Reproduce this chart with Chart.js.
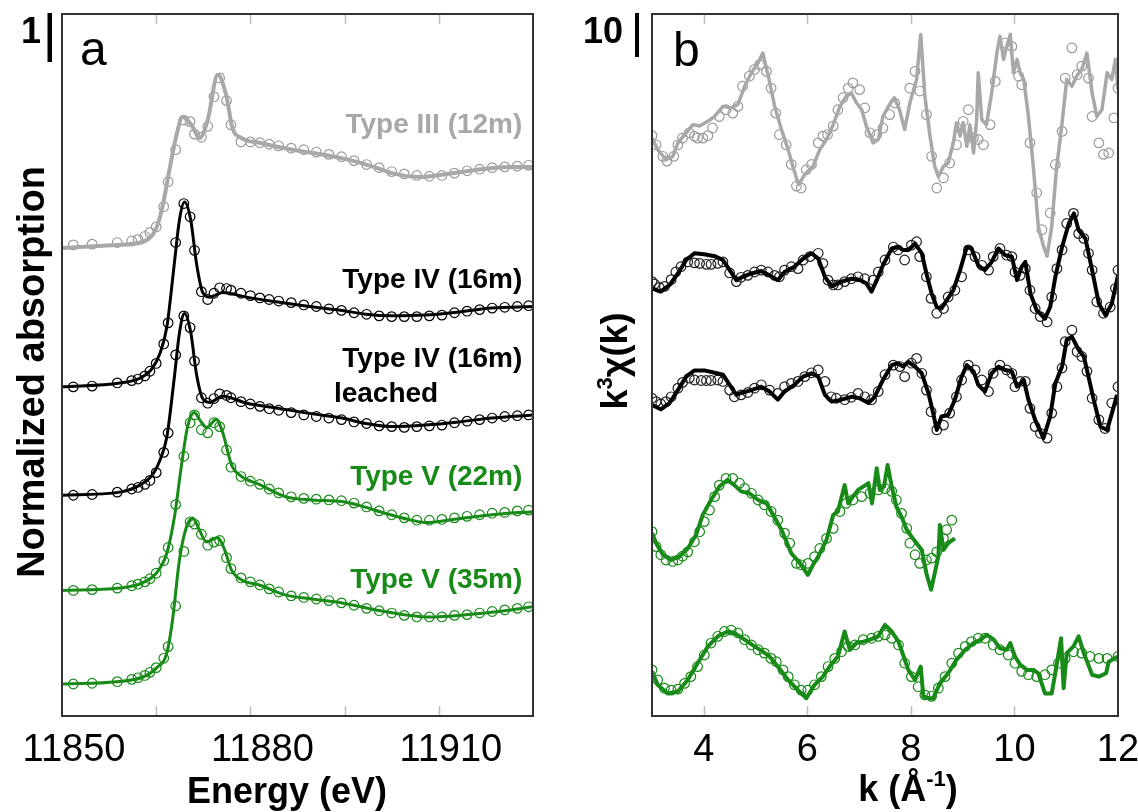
<!DOCTYPE html>
<html>
<head>
<meta charset="utf-8">
<script src="https://cdn.jsdelivr.net/npm/chart.js@4.4.1/dist/chart.umd.min.js"></script>
<style>
  html, body { margin: 0; padding: 0; background: #fff; }
  #wrap { position: relative; width: 1138px; height: 812px; }
  #wrap canvas { position: absolute; top: 0; }
  #chartA { left: 0; }
  #chartB { left: 569px; }
</style>
</head>
<body>
<div id="wrap">
  <canvas id="chartA" width="569" height="812"></canvas>
  <canvas id="chartB" width="569" height="812"></canvas>
</div>
<script>
/* ---------- Panel a : XANES (normalized absorption, offset per sample) ---------- */
const energyTicks = [11850, 11865, 11880, 11895, 11910, 11925];
const energyTickLabels = ['11850', '', '11880', '', '11910', ''];

const energyIII = [11850, 11858.7, 11862.9, 11865.1, 11866.0, 11867.1, 11868.3, 11869.2, 11870.6, 11871.9, 11873.2, 11874.8, 11876.2, 11877.1, 11878.6, 11881.4, 11886.7, 11892.1, 11895.7, 11900.0, 11902.5, 11907.3, 11910.5, 11915.9, 11921.1, 11925];
const fitIII = [0, 0.04, 0.08, 0.27, 0.53, 1.0, 1.47, 1.68, 1.58, 1.41, 1.64, 2.22, 1.94, 1.55, 1.41, 1.35, 1.26, 1.19, 1.13, 1.03, 0.96, 0.91, 0.94, 1.0, 1.04, 1.04];

const energyIV = [11850, 11859.2, 11862.4, 11864.4, 11865.6, 11866.7, 11867.9, 11868.7, 11869.5, 11870.5, 11871.4, 11872.4, 11873.5, 11875.6, 11879.4, 11884.1, 11889.4, 11894.6, 11898.4, 11902.5, 11907.9, 11913.2, 11918.4, 11925];
const fitIV = [0, 0.05, 0.11, 0.24, 0.43, 0.77, 1.59, 2.14, 2.37, 2.14, 1.59, 1.21, 1.15, 1.21, 1.15, 1.09, 1.03, 0.98, 0.93, 0.91, 0.92, 0.96, 1.01, 1.03];
const fitIVleached = [0, 0.04, 0.13, 0.26, 0.45, 0.75, 1.52, 2.08, 2.33, 2.09, 1.56, 1.24, 1.19, 1.27, 1.18, 1.12, 1.05, 0.99, 0.92, 0.88, 0.9, 0.94, 0.99, 1.03];

const energyV22 = [11850, 11859.2, 11862.9, 11865.1, 11866.7, 11867.9, 11869.0, 11870.0, 11871.1, 11871.9, 11873.0, 11874.6, 11875.6, 11877.0, 11878.6, 11881.4, 11885.7, 11889.8, 11894.6, 11897.3, 11901.0, 11905.2, 11907.9, 11913.2, 11918.4, 11925];
const fitV22 = [0, 0.03, 0.1, 0.23, 0.48, 0.94, 1.59, 2.1, 2.28, 2.19, 2.09, 2.19, 2.02, 1.61, 1.46, 1.36, 1.2, 1.16, 1.14, 1.09, 1.0, 0.91, 0.87, 0.92, 0.97, 1.01];

const energyV35 = [11850, 11858.7, 11862.9, 11865.1, 11866.7, 11867.6, 11868.7, 11869.8, 11870.8, 11871.9, 11873.0, 11874.8, 11875.9, 11877.0, 11878.7, 11881.4, 11885.7, 11889.8, 11894.6, 11900.0, 11905.2, 11907.9, 11913.2, 11918.4, 11925];
const fitV35 = [0, 0.03, 0.09, 0.21, 0.4, 0.82, 1.59, 2.01, 2.13, 1.97, 1.82, 1.88, 1.72, 1.46, 1.33, 1.27, 1.14, 1.09, 1.04, 0.95, 0.88, 0.86, 0.88, 0.92, 0.99];

// measured points share one energy grid
const expEnergy = [11851.8, 11854.8, 11858.8, 11861.1, 11862.1, 11863.2, 11864.0, 11865.0, 11866.2, 11866.9,
  11868.1, 11869.4, 11870.4, 11871.1, 11872.2, 11873.2, 11874.2, 11875.1, 11876.2, 11876.9,
  11878.5, 11880, 11881.5, 11883, 11884.5, 11886.5, 11888.5, 11890.5, 11892.5, 11894.5,
  11896.5, 11898.5, 11900.5, 11902.5, 11904.5, 11906.5, 11908.5, 11910.5, 11912.5, 11914.5,
  11916.5, 11918.5, 11920.5, 11922.5, 11924.3];
const expIII = [0.04, 0.05, 0.07, 0.09, 0.11, 0.15, 0.2, 0.27, 0.53, 0.85,
  1.26, 1.64, 1.62, 1.46, 1.42, 1.56, 1.94, 2.18, 1.89, 1.58,
  1.36, 1.36, 1.35, 1.33, 1.31, 1.28, 1.26, 1.23, 1.2, 1.17,
  1.12, 1.07, 1.03, 0.98, 0.95, 0.93, 0.92, 0.93, 0.96, 0.99,
  1.01, 1.03, 1.04, 1.05, 1.06];
const expIV = [0.0, 0.01, 0.05, 0.08, 0.1, 0.14, 0.2, 0.3, 0.55, 0.82,
  1.85, 2.35, 2.18, 1.75, 1.22, 1.12, 1.2, 1.27, 1.26, 1.24,
  1.2, 1.17, 1.14, 1.12, 1.1, 1.08, 1.05, 1.03, 1.0, 0.98,
  0.95, 0.93, 0.91, 0.9, 0.9, 0.9, 0.91, 0.92, 0.95, 0.97,
  0.99, 1.01, 1.02, 1.03, 1.04];
const expIVleached = [0.0, 0.01, 0.04, 0.08, 0.1, 0.14, 0.19, 0.29, 0.55, 0.8,
  1.8, 2.3, 2.15, 1.72, 1.25, 1.18, 1.24, 1.3, 1.28, 1.25,
  1.2, 1.17, 1.14, 1.11, 1.09, 1.06, 1.03, 1.01, 0.99, 0.97,
  0.94, 0.92, 0.89, 0.88, 0.87, 0.88, 0.89, 0.9, 0.93, 0.95,
  0.97, 0.99, 1.01, 1.02, 1.03];
const expV22 = [0.0, 0.01, 0.03, 0.06, 0.08, 0.11, 0.15, 0.22, 0.38, 0.55,
  1.1, 1.72, 2.15, 2.25, 2.06, 2.02, 2.15, 2.1, 1.8, 1.58,
  1.46, 1.4, 1.36, 1.3, 1.25, 1.2, 1.18, 1.17, 1.16, 1.15,
  1.12, 1.07, 1.02, 0.97, 0.93, 0.9, 0.9, 0.91, 0.93, 0.95,
  0.97, 0.99, 1.0, 1.02, 1.03];
const expV35 = [0.0, 0.01, 0.03, 0.06, 0.08, 0.11, 0.15, 0.21, 0.33, 0.48,
  1.0, 1.7, 2.08, 2.05, 1.92, 1.78, 1.82, 1.84, 1.62, 1.48,
  1.36, 1.31, 1.27, 1.22, 1.18, 1.13, 1.11, 1.09, 1.07, 1.04,
  1.01, 0.97, 0.94, 0.91, 0.88, 0.86, 0.86, 0.86, 0.88, 0.89,
  0.91, 0.93, 0.95, 0.97, 0.99];

const offsetsA = { III: 6.0, IV: 4.22, IVleached: 2.83, V22: 1.61, V35: 0.41 };

/* ---------- Panel b : EXAFS k^3 chi(k), [k, chi] pairs ---------- */
const kTicks = [4, 6, 8, 10, 12];

const chiFitIII = [[3.0,2.4],[3.11,0],[3.27,-2.1],[3.4,-1.4],[3.5,1.4],[3.63,3.1],[3.79,5.2],[3.92,4.9],[4.08,5.9],[4.21,6.9],
  [4.37,9.0],[4.53,8.7],[4.66,9.4],[4.79,13.2],[4.92,16.0],[5.05,18.1],[5.14,20.1],[5.24,15.6],[5.37,9.0],[5.5,4.2],
  [5.63,0],[5.72,-3.5],[5.83,-7.3],[5.95,-5.2],[6.11,-3.5],[6.24,0],[6.37,2.1],[6.5,5.2],[6.63,9.0],[6.75,11.1],
  [6.85,11.8],[6.95,9.7],[7.05,8.3],[7.14,4.9],[7.27,1.4],[7.37,2.1],[7.46,6.9],[7.59,9.4],[7.68,10.8],[7.78,8.3],
  [7.88,4.2],[7.98,9.7],[8.11,14.6],[8.19,24.0],[8.27,11.1],[8.37,2.8],[8.46,-3.5],[8.53,-5.6],[8.63,-3.5],[8.72,-2.8],
  [8.82,1.4],[8.88,5.6],[8.95,2.8],[9.01,5.6],[9.08,0.7],[9.14,5.2],[9.21,-0.7],[9.27,6.2],[9.3,16.0],[9.37,6.2],
  [9.46,5.2],[9.56,11.8],[9.66,20.1],[9.72,23.6],[9.79,18.8],[9.85,21.5],[9.92,24.0],[9.98,16.0],[10.05,18.8],[10.11,16.0],
  [10.18,14.6],[10.27,6.9],[10.37,-4.2],[10.46,-16.0],[10.56,-20.1],[10.63,-22.2],[10.72,-16.0],[10.81,-4.2],[10.92,5.6],[11.01,14.6],
  [11.11,13.2],[11.2,15.3],[11.3,16.7],[11.4,20.1],[11.5,11.8],[11.59,6.9],[11.69,8.3],[11.79,16.0],[11.88,14.6],[11.95,18.8],[12.0,12.5]];
const chiExpIII = [[3.0,2.9],[3.08,1.0],[3.21,-1.4],[3.29,-2.4],[3.42,-1.4],[3.5,1.0],[3.59,2.4],[3.72,3.5],[3.82,2.8],[3.88,2.4],
  [3.98,2.4],[4.08,2.9],[4.17,4.5],[4.3,6.9],[4.43,8.3],[4.56,7.6],[4.66,9.0],[4.75,13.2],[4.88,15.3],[4.98,16.7],
  [5.08,17.7],[5.21,16.3],[5.3,12.8],[5.39,7.6],[5.46,3.1],[5.59,1.0],[5.69,-3.1],[5.79,-7.6],[5.88,-8.0],[5.98,-4.2],
  [6.08,-3.1],[6.21,1.4],[6.3,2.8],[6.39,3.1],[6.5,4.9],[6.59,8.3],[6.69,10.8],[6.79,12.8],[6.88,13.9],[7.01,12.5],
  [7.11,8.7],[7.21,3.5],[7.34,3.1],[7.46,4.5],[7.59,7.3],[7.69,9.7],[7.98,12.8],[8.08,16.3],[8.17,12.2],[8.3,7.3],
  [8.4,-1.4],[8.5,-8.0],[8.63,-5.9],[8.75,-2.8],[8.88,1.0],[9.01,5.9],[9.11,8.3],[9.21,2.4],[9.3,2.1],[9.4,1.0],
  [9.53,5.2],[9.63,14.2],[9.82,22.2],[9.95,21.5],[10.08,15.3],[10.14,13.5],[10.3,1.4],[10.43,-9.0],[10.53,-16.7],[10.69,-13.2],
  [10.79,-3.1],[10.92,3.8],[10.98,14.9],[11.11,21.2],[11.21,15.6],[11.3,17.4],[11.43,14.9],[11.5,6.9],[11.63,1.4],[11.72,-1.0],
  [11.82,-0.7],[11.92,6.6],[12.0,12.8]];

const chiFitIV = [[3.0,-1.7],[3.17,-2.4],[3.34,-1.0],[3.5,1.4],[3.66,4.2],[3.82,5.6],[4.01,5.4],[4.21,5.0],[4.37,4.2],[4.5,2.1],
  [4.63,0],[4.75,0.7],[4.92,1.4],[5.11,1.9],[5.27,1.0],[5.43,0],[5.56,1.7],[5.75,2.8],[5.92,4.5],[6.08,5.6],
  [6.21,4.5],[6.34,0.7],[6.47,-1.3],[6.66,-0.3],[6.85,0.3],[7.01,0.1],[7.14,-0.7],[7.24,-2.4],[7.34,0],[7.46,3.1],
  [7.63,6.6],[7.75,6.9],[7.85,6.3],[7.95,6.3],[8.08,7.6],[8.21,5.6],[8.3,1.4],[8.4,-2.8],[8.5,-5.6],[8.59,-5.9],
  [8.69,-4.2],[8.82,-2.1],[8.95,2.1],[9.08,6.9],[9.17,6.6],[9.3,3.1],[9.43,2.1],[9.56,3.8],[9.69,6.6],[9.82,5.2],
  [9.95,4.9],[10.05,0],[10.14,2.8],[10.21,3.8],[10.31,-2.8],[10.43,-6.3],[10.59,-8.0],[10.69,-5.6],[10.79,0.7],[10.92,6.9],
  [11.05,11.8],[11.15,13.9],[11.24,10.4],[11.37,8.7],[11.5,2.1],[11.63,-4.9],[11.76,-7.3],[11.88,-4.9],[12.0,1.0]];
const chiExpIV = [[3.0,-0.3],[3.05,-0.8],[3.14,-1.5],[3.24,-1.3],[3.37,0.1],[3.46,1.7],[3.56,2.8],[3.69,3.8],[3.82,3.6],[3.92,3.5],
  [4.05,3.3],[4.14,3.3],[4.27,3.5],[4.37,3.8],[4.5,1.5],[4.63,-0.3],[4.72,0.6],[4.85,1.0],[4.98,1.7],[5.11,2.1],
  [5.24,1.7],[5.37,1.0],[5.46,0.7],[5.56,2.1],[5.69,2.8],[5.82,2.4],[5.92,4.2],[6.05,4.9],[6.21,5.6],[6.3,3.5],
  [6.4,0],[6.5,-1.0],[6.59,-1.0],[6.72,-0.3],[6.85,0.3],[6.98,0.7],[7.11,0.3],[7.27,0],[7.37,1.7],[7.5,4.2],
  [7.66,6.9],[7.75,6.3],[7.88,4.2],[8.01,7.3],[8.11,8.0],[8.17,4.9],[8.3,0.7],[8.39,-3.8],[8.5,-6.9],[8.63,-5.9],
  [8.72,-3.5],[8.85,-2.1],[8.98,0.7],[9.11,6.3],[9.24,4.9],[9.37,3.1],[9.5,2.1],[9.59,4.9],[9.72,6.6],[9.85,5.2],
  [9.95,4.9],[10.01,1.7],[10.11,1.0],[10.21,2.4],[10.3,-2.1],[10.4,-5.9],[10.5,-7.6],[10.63,-8.7],[10.72,-3.5],[10.82,2.4],
  [10.92,6.3],[11.01,11.8],[11.14,13.9],[11.24,9.7],[11.34,8.7],[11.43,5.6],[11.5,2.1],[11.59,-4.5],[11.72,-6.9],[11.85,-5.6],
  [11.95,-1.7],[12.0,2.1]];

const chiFitIVleached = [[3.0,-1.4],[3.17,-2.3],[3.34,-1.0],[3.5,1.7],[3.66,4.5],[3.82,5.8],[4.01,5.8],[4.21,5.3],[4.37,4.9],[4.5,2.8],
  [4.63,0.7],[4.75,1.2],[4.92,1.7],[5.11,2.4],[5.27,1.4],[5.43,-0.3],[5.56,1.4],[5.75,2.8],[5.92,4.5],[6.08,5.2],
  [6.21,4.5],[6.34,0.7],[6.47,-0.7],[6.66,-0.3],[6.85,0.3],[7.01,0],[7.18,-1.0],[7.3,0.3],[7.46,3.8],[7.63,6.9],
  [7.75,7.3],[7.85,6.6],[7.95,7.6],[8.08,6.6],[8.21,5.2],[8.34,1.0],[8.43,-3.1],[8.5,-6.6],[8.59,-3.8],[8.72,-3.5],
  [8.85,-0.3],[8.98,4.5],[9.08,6.9],[9.21,5.6],[9.3,2.8],[9.43,1.4],[9.56,5.2],[9.69,6.6],[9.82,5.9],[9.95,5.6],
  [10.05,2.4],[10.18,3.8],[10.27,-0.3],[10.4,-4.5],[10.56,-8.3],[10.69,-3.8],[10.79,3.1],[10.92,6.6],[11.01,12.2],[11.11,12.8],
  [11.24,10.1],[11.34,8.7],[11.43,4.5],[11.53,-0.3],[11.66,-5.9],[11.79,-6.6],[11.92,-1.7],[11.98,0.7]];
const chiExpIVleached = [[3.0,0],[3.08,-0.7],[3.17,-1.2],[3.27,-0.7],[3.37,0.3],[3.5,2.1],[3.59,3.3],[3.72,4.2],[3.82,3.8],[3.95,3.7],
  [4.05,3.7],[4.14,3.7],[4.27,3.8],[4.37,3.5],[4.5,1.7],[4.59,0.3],[4.72,0.7],[4.85,1.2],[4.98,2.1],[5.11,2.8],
  [5.27,1.7],[5.43,1.0],[5.56,2.4],[5.69,3.1],[5.82,3.5],[5.95,4.5],[6.08,5.3],[6.21,5.9],[6.34,3.5],[6.46,0.3],
  [6.56,0],[6.72,-0.3],[6.85,0.2],[6.98,1.0],[7.11,0.3],[7.24,-0.3],[7.37,1.4],[7.5,4.9],[7.66,6.9],[7.79,6.6],
  [7.88,4.5],[8.01,7.3],[8.11,8.3],[8.21,5.2],[8.3,1.7],[8.39,-2.8],[8.5,-6.6],[8.63,-5.6],[8.75,-3.1],[8.88,0.3],
  [8.98,3.8],[9.11,6.9],[9.24,5.9],[9.37,3.8],[9.5,1.4],[9.59,5.2],[9.72,6.9],[9.85,5.9],[9.95,5.2],[10.01,2.4],
  [10.11,3.5],[10.21,3.5],[10.3,-2.1],[10.4,-5.9],[10.5,-7.3],[10.63,-8.3],[10.72,-3.1],[10.82,2.4],[10.92,6.3],[10.98,11.8],
  [11.11,14.2],[11.21,9.7],[11.3,8.7],[11.4,5.6],[11.5,0],[11.63,-4.5],[11.75,-6.3],[11.88,-1.0],[12.0,2.4]];

const chiFitV22 = [[3.0,-2.4],[3.08,-4.5],[3.21,-6.9],[3.37,-8.0],[3.53,-7.3],[3.69,-5.6],[3.85,-2.8],[3.98,1.4],[4.14,4.5],[4.3,7.3],
  [4.46,8.7],[4.59,7.6],[4.72,6.3],[4.88,5.9],[5.05,4.5],[5.21,3.8],[5.34,1.4],[5.5,-1.7],[5.69,-6.6],[5.88,-9.0],
  [6.01,-11.1],[6.11,-9.0],[6.21,-7.3],[6.37,-3.8],[6.5,1.4],[6.59,2.1],[6.72,7.6],[6.79,3.8],[6.88,5.2],[6.98,6.6],
  [7.08,7.3],[7.18,8.0],[7.25,3.8],[7.34,11.1],[7.4,6.6],[7.48,7.3],[7.55,11.8],[7.63,7.3],[7.72,3.1],[7.82,1.0],
  [7.92,-1.7],[8.01,-3.1],[8.11,-4.5],[8.21,-5.9],[8.3,-10.8],[8.39,-14.2],[8.46,-10.8],[8.53,-7.3],[8.56,-0.7],[8.63,-5.9],
  [8.72,-4.5],[8.85,-3.5]];
const chiExpV22 = [[3.0,-2.1],[3.08,-5.2],[3.17,-6.9],[3.27,-8.0],[3.4,-8.3],[3.5,-8.0],[3.59,-7.2],[3.69,-6.3],[3.82,-4.2],[3.92,-2.1],
  [4.01,0],[4.11,2.4],[4.21,5.2],[4.3,7.6],[4.43,9.0],[4.56,9.0],[4.69,8.0],[4.79,6.9],[4.92,5.9],[5.05,4.5],
  [5.17,3.5],[5.3,2.1],[5.43,0.3],[5.56,-2.4],[5.66,-4.5],[5.79,-8.7],[5.88,-9.0],[6.01,-8.7],[6.14,-7.3],[6.24,-5.6],
  [6.37,-3.5],[6.5,-1.4],[6.63,2.1],[6.75,3.8],[6.88,4.5],[7.05,5.2],[7.21,5.9],[7.37,6.6],[7.5,6.9],[7.63,6.3],
  [7.72,4.5],[7.82,1.7],[7.92,-1.4],[7.98,-4.5],[8.08,-6.9],[8.17,-8.7],[8.3,-8.0],[8.4,-7.6],[8.5,-6.3],[8.63,-3.5],
  [8.69,-1.7],[8.79,0.3]];

const chiFitV35 = [[3.0,-1.7],[3.11,-4.5],[3.3,-6.3],[3.5,-5.9],[3.69,-3.5],[3.88,0],[4.08,3.5],[4.27,5.6],[4.46,6.6],[4.59,6.3],
  [4.79,4.9],[4.98,3.5],[5.14,2.4],[5.27,1.4],[5.43,-0.7],[5.63,-3.5],[5.82,-5.6],[5.98,-7.3],[6.14,-4.5],[6.3,-2.8],
  [6.43,-0.7],[6.59,1.4],[6.72,6.6],[6.82,2.8],[6.95,4.2],[7.08,4.5],[7.21,4.9],[7.37,5.6],[7.5,8.0],[7.63,6.6],
  [7.76,4.5],[7.86,1.4],[7.95,-1.4],[8.08,-3.5],[8.19,-0.7],[8.24,-6.9],[8.34,-7.3],[8.43,-7.3],[8.56,-4.2],[8.72,-2.1],
  [8.88,0.7],[9.05,2.8],[9.21,4.2],[9.34,4.9],[9.47,5.9],[9.6,4.9],[9.72,3.1],[9.85,2.8],[9.92,4.2],[10.01,1.4],
  [10.11,-0.3],[10.24,-1.4],[10.37,-1.4],[10.46,-2.1],[10.59,-6.3],[10.72,-6.3],[10.81,-0.7],[10.9,5.2],[10.95,-5.2],[11.01,2.1],
  [11.14,3.5],[11.24,5.6],[11.34,2.1],[11.5,-2.4],[11.63,-2.8],[11.77,-2.1],[11.82,0.3],[12.0,1.4]];
const chiExpV35 = [[3.0,-1.4],[3.11,-3.5],[3.24,-5.2],[3.37,-5.6],[3.5,-5.4],[3.63,-4.2],[3.75,-2.8],[3.88,-0.7],[4.01,1.7],[4.14,4.2],
  [4.27,5.6],[4.4,6.6],[4.53,6.9],[4.66,6.3],[4.79,4.9],[4.92,3.8],[5.05,2.8],[5.17,2.1],[5.3,1.0],[5.4,0.3],
  [5.53,-1.4],[5.63,-2.8],[5.75,-4.5],[5.88,-5.6],[6.01,-5.6],[6.14,-4.5],[6.27,-2.8],[6.4,-0.7],[6.53,1.0],[6.66,2.4],
  [6.79,3.5],[6.92,3.8],[7.08,4.9],[7.24,5.2],[7.37,5.6],[7.5,5.9],[7.63,5.2],[7.76,3.8],[7.88,0],[8.01,-2.8],
  [8.14,-4.9],[8.27,-6.6],[8.4,-6.9],[8.53,-5.2],[8.66,-2.8],[8.79,0],[8.92,2.1],[9.05,3.5],[9.17,4.5],[9.3,5.2],
  [9.43,5.2],[9.59,3.8],[9.72,2.8],[9.88,1.7],[10.01,0],[10.14,-1.7],[10.27,-2.4],[10.43,-2.8],[10.59,-2.4],[10.72,-1.4],
  [10.85,0],[10.98,1.0],[11.14,2.4],[11.3,2.1],[11.46,1.4],[11.63,1.0],[11.79,1.0],[12.0,1.4]];

const offsetsB = { III: 118, IV: 90.8, IVleached: 66.2, V22: 40.5, V35: 11.0 };

/* ---------- styling ---------- */
const FONT = "'Liberation Sans', Arial, sans-serif";
const GRAY = '#a8a8a8';
const BLACK = '#000000';
const GREEN = '#178a17';

Chart.defaults.font.family = FONT;
Chart.defaults.color = '#000';

function fitLine(xs, ys, off, color, width) {
    return {
        data: xs.map((x, i) => ({ x: x, y: ys[i] + off })),
        showLine: true, borderColor: color, borderWidth: width,
        pointRadius: 0, cubicInterpolationMode: 'monotone'
    };
}
function fitPairs(pairs, off, color, width) {
    return {
        data: pairs.map(p => ({ x: p[0], y: p[1] + off })),
        showLine: true, borderColor: color, borderWidth: width,
        pointRadius: 0, tension: 0, borderJoinStyle: 'round'
    };
}
function dots(points, color) {
    return {
        data: points, showLine: false, pointRadius: 4.8, pointBorderWidth: 1.2,
        pointBorderColor: color, pointBackgroundColor: 'rgba(0,0,0,0)'
    };
}

// box + inward tick marks + free text, drawn on top
function framePlugin(drawText) {
    return {
        id: 'frame',
        afterDraw(chart) {
            const { ctx, chartArea: a } = chart;
            const x = chart.scales.x;
            ctx.save();
            ctx.strokeStyle = '#bdbdbd';
            ctx.lineWidth = 1.5;
            x.ticks.forEach(t => {
                const px = Math.round(x.getPixelForValue(t.value)) + 0.5;
                if (px <= a.left + 2 || px >= a.right - 2) return;
                ctx.beginPath();
                ctx.moveTo(px, a.bottom); ctx.lineTo(px, a.bottom - 10);
                ctx.moveTo(px, a.top); ctx.lineTo(px, a.top + 10);
                ctx.stroke();
            });
            ctx.strokeStyle = '#333';
            ctx.lineWidth = 2;
            ctx.strokeRect(a.left, a.top, a.right - a.left, a.bottom - a.top);
            drawText(ctx, chart);
            ctx.restore();
        }
    };
}

function put(ctx, str, x, y, font, color, align) {
    ctx.font = font;
    ctx.fillStyle = color;
    ctx.textAlign = align || 'left';
    ctx.textBaseline = 'alphabetic';
    ctx.fillText(str, x, y);
}

function xAxis(min, max, ticks, labels, labelOffset) {
    return {
        type: 'linear', min: min, max: max,
        grid: { display: false, drawTicks: false },
        border: { display: false },
        afterBuildTicks: s => { s.ticks = ticks.map(v => ({ value: v })); },
        ticks: {
            autoSkip: false, maxRotation: 0, padding: 12, labelOffset: labelOffset,
            color: '#000', font: { size: 38 },
            callback: (v) => labels[ticks.indexOf(v)]
        },
        afterFit: s => { s.height = 96; s.paddingLeft = 0; s.paddingRight = 0; }
    };
}

/* ---------- panel a ---------- */
const labelsA = [
    { text: 'Type III (12m)', e: 11923.3, y: 7.47, color: GRAY, align: 'right' },
    { text: 'Type IV (16m)', e: 11923.3, y: 5.49, color: BLACK, align: 'right' },
    { text: 'Type IV (16m)', e: 11923.3, y: 4.47, color: BLACK, align: 'right' },
    { text: 'leached', e: 11893.3, y: 4.03, color: BLACK, align: 'left' },
    { text: 'Type V (22m)', e: 11923.3, y: 2.96, color: GREEN, align: 'right' },
    { text: 'Type V (35m)', e: 11923.3, y: 1.64, color: GREEN, align: 'right' }
];

const expPts = (vals, off) => expEnergy.map((e, i) => ({ x: e, y: vals[i] + off }));

new Chart(document.getElementById('chartA'), {
    type: 'scatter',
    data: {
        datasets: [
            fitLine(energyIII, fitIII, offsetsA.III, GRAY, 4),
            fitLine(energyIV, fitIV, offsetsA.IV, BLACK, 3),
            fitLine(energyIV, fitIVleached, offsetsA.IVleached, BLACK, 3),
            fitLine(energyV22, fitV22, offsetsA.V22, GREEN, 3),
            fitLine(energyV35, fitV35, offsetsA.V35, GREEN, 3),
            dots(expPts(expIII, offsetsA.III), '#9a9a9a'),
            dots(expPts(expIV, offsetsA.IV), BLACK),
            dots(expPts(expIVleached, offsetsA.IVleached), BLACK),
            dots(expPts(expV22, offsetsA.V22), GREEN),
            dots(expPts(expV35, offsetsA.V35), GREEN)
        ]
    },
    options: {
        responsive: false, animation: false, devicePixelRatio: 1,
        layout: { padding: { left: 62, top: 14, right: 36, bottom: 0 } },
        plugins: { legend: { display: false }, tooltip: { enabled: false } },
        scales: {
            x: xAxis(11850, 11925, energyTicks, energyTickLabels, 12),
            y: { display: false, min: 0, max: 9 }
        }
    },
    plugins: [framePlugin((ctx, chart) => {
        const { x, y } = chart.scales;
        labelsA.forEach(l => put(ctx, l.text, x.getPixelForValue(l.e), y.getPixelForValue(l.y), 'bold 28px ' + FONT, l.color, l.align));
        put(ctx, 'a', 80, 65, '48px ' + FONT, BLACK);
        put(ctx, 'Energy (eV)', 287, 803, 'bold 36px ' + FONT, BLACK, 'center');
        // scale bar
        put(ctx, '1', 41, 43, 'bold 36px ' + FONT, BLACK, 'right');
        ctx.fillStyle = BLACK;
        ctx.fillRect(47.5, 13, 4.5, 49);
        // y title
        ctx.save();
        ctx.translate(34, 372);
        ctx.rotate(-Math.PI / 2);
        ctx.font = 'bold 38px ' + FONT;
        ctx.textAlign = 'center';
        ctx.textBaseline = 'middle';
        ctx.fillText('Normalized absorption', 0, 0);
        ctx.restore();
    })]
});

/* ---------- panel b ---------- */
const expB = (pairs, off) => pairs.map(p => ({ x: p[0], y: p[1] + off }));

new Chart(document.getElementById('chartB'), {
    type: 'scatter',
    data: {
        datasets: [
            fitPairs(chiFitIII, offsetsB.III, GRAY, 3.5),
            fitPairs(chiFitIV, offsetsB.IV, BLACK, 4),
            fitPairs(chiFitIVleached, offsetsB.IVleached, BLACK, 4),
            fitPairs(chiFitV22, offsetsB.V22, GREEN, 4),
            fitPairs(chiFitV35, offsetsB.V35, GREEN, 4),
            dots(expB(chiExpIII, offsetsB.III), '#9a9a9a'),
            dots(expB(chiExpIV, offsetsB.IV), '#222'),
            dots(expB(chiExpIVleached, offsetsB.IVleached), '#222'),
            dots(expB(chiExpV22, offsetsB.V22), GREEN),
            dots(expB(chiExpV35, offsetsB.V35), GREEN)
        ]
    },
    options: {
        responsive: false, animation: false, devicePixelRatio: 1,
        layout: { padding: { left: 83, top: 14, right: 20, bottom: 0 } },
        plugins: { legend: { display: false }, tooltip: { enabled: false } },
        scales: {
            x: xAxis(3, 12, kTicks, kTicks.map(String), 0),
            y: { display: false, min: 0, max: 146.25 }
        }
    },
    plugins: [framePlugin((ctx) => {
        put(ctx, 'b', 104, 66, '48px ' + FONT, BLACK);
        put(ctx, '10', 54, 43, 'bold 36px ' + FONT, BLACK, 'right');
        ctx.fillStyle = BLACK;
        ctx.fillRect(66, 13, 4, 44);

        // x title with superscript
        const big = 'bold 36px ' + FONT, small = 'bold 22px ' + FONT;
        ctx.font = big; const w1 = ctx.measureText('k (Å').width, w3 = ctx.measureText(')').width;
        ctx.font = small; const w2 = ctx.measureText('-1').width;
        let sx = 339 - (w1 + w2 + w3) / 2;
        put(ctx, 'k (Å', sx, 801, big, BLACK); sx += w1;
        put(ctx, '-1', sx, 786, small, BLACK); sx += w2;
        put(ctx, ')', sx, 801, big, BLACK);

        // y title k^3 chi(k)
        ctx.save();
        ctx.translate(58, 361);
        ctx.rotate(-Math.PI / 2);
        ctx.font = big; const a1 = ctx.measureText('k').width, a3 = ctx.measureText('χ(k)').width;
        ctx.font = small; const a2 = ctx.measureText('3').width;
        let tx = -(a1 + a2 + a3) / 2;
        put(ctx, 'k', tx, 0, big, BLACK); tx += a1;
        put(ctx, '3', tx, -15, small, BLACK); tx += a2;
        put(ctx, 'χ(k)', tx, 0, big, BLACK);
        ctx.restore();
    })]
});
</script>
</body>
</html>
